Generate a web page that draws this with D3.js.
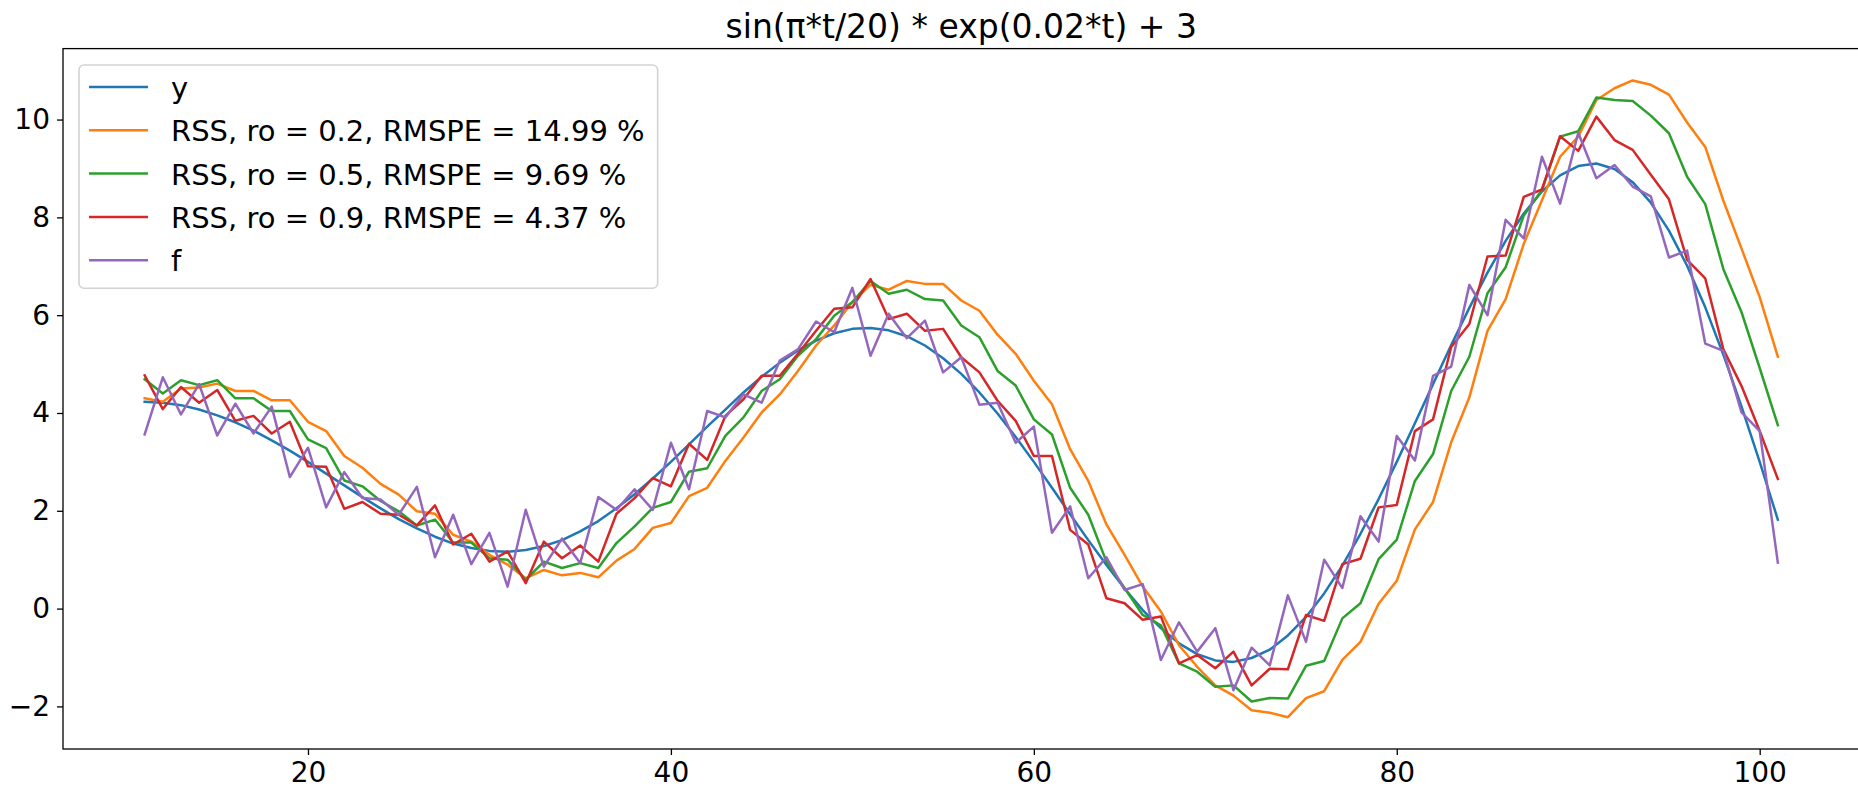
<!DOCTYPE html>
<html>
<head>
<meta charset="utf-8">
<script src="https://cdn.jsdelivr.net/npm/d3@7"></script>
<style>
  body { margin: 0; background: #fff; }
  text { font-family: "DejaVu Sans", sans-serif; fill: #000; }
</style>
</head>
<body>
<div id="chart"></div>
<script>
// Data
// ==============================
var tValues = [11,12,13,14,15,16,17,18,19,20,21,22,23,24,25,26,27,28,29,30,
  31,32,33,34,35,36,37,38,39,40,41,42,43,44,45,46,47,48,49,50,
  51,52,53,54,55,56,57,58,59,60,61,62,63,64,65,66,67,68,69,70,
  71,72,73,74,75,76,77,78,79,80,81,82,83,84,85,86,87,88,89,90,
  91,92,93,94,95,96,97,98,99,100,101];

var yValues = [4.23,4.21,4.16,4.07,3.95,3.81,3.64,3.44,3.23,3.00,2.76,2.52,2.28,2.05,1.83,1.64,1.47,1.33,1.24,1.18,
  1.16,1.20,1.28,1.40,1.58,1.79,2.05,2.34,2.66,3.00,3.36,3.72,4.07,4.42,4.74,5.03,5.28,5.48,5.63,5.72,
  5.74,5.69,5.57,5.38,5.12,4.80,4.42,3.99,3.51,3.00,2.47,1.93,1.40,0.89,0.41,-0.03,-0.40,-0.71,-0.93,-1.06,
  -1.09,-1.01,-0.84,-0.55,-0.17,0.31,0.88,1.53,2.24,3.00,3.79,4.59,5.39,6.15,6.87,7.52,8.08,8.53,8.86,9.05,
  9.10,8.99,8.72,8.30,7.73,7.01,6.16,5.19,4.13,3.00,1.82];

var rss02Values = [4.30,4.23,4.50,4.52,4.60,4.45,4.45,4.26,4.26,3.82,3.63,3.12,2.88,2.55,2.33,1.99,1.94,1.51,1.37,1.10,
  0.90,0.62,0.79,0.68,0.73,0.64,0.98,1.22,1.65,1.75,2.30,2.47,3.02,3.50,4.01,4.38,4.86,5.38,5.79,6.27,
  6.62,6.52,6.70,6.64,6.64,6.30,6.09,5.60,5.21,4.66,4.18,3.26,2.61,1.72,1.10,0.45,-0.06,-0.75,-1.19,-1.57,
  -1.78,-2.08,-2.13,-2.22,-1.83,-1.69,-1.05,-0.68,0.10,0.57,1.62,2.18,3.40,4.32,5.68,6.33,7.46,8.35,9.24,9.65,
  10.40,10.64,10.80,10.71,10.51,9.94,9.44,8.34,7.36,6.37,5.15];

var rss05Values = [4.69,4.40,4.67,4.57,4.67,4.30,4.30,4.04,4.04,3.46,3.28,2.62,2.50,2.20,1.99,1.70,1.82,1.35,1.35,1.03,
  1.00,0.59,0.96,0.83,0.93,0.83,1.34,1.68,2.06,2.18,2.80,2.87,3.53,3.91,4.45,4.69,5.17,5.51,5.99,6.27,
  6.70,6.44,6.52,6.33,6.30,5.79,5.55,4.86,4.56,3.87,3.56,2.47,1.92,0.96,0.42,-0.13,-0.34,-1.12,-1.29,-1.60,
  -1.57,-1.90,-1.83,-1.84,-1.17,-1.07,-0.20,0.11,1.01,1.41,2.61,3.16,4.45,5.15,6.45,6.98,8.04,8.56,9.65,9.76,
  10.45,10.40,10.38,10.08,9.72,8.83,8.27,6.94,6.06,4.92,3.75];

var rss09Values = [4.77,4.08,4.53,4.21,4.47,3.84,3.94,3.58,3.82,2.91,2.90,2.04,2.18,1.94,1.92,1.70,2.11,1.31,1.53,0.96,
  1.17,0.52,1.37,1.03,1.29,0.96,1.94,2.26,2.67,2.50,3.37,3.04,3.94,4.28,4.76,4.76,5.21,5.68,6.13,6.16,
  6.74,5.92,6.03,5.68,5.72,5.14,4.83,4.25,3.84,3.12,3.12,1.61,1.31,0.21,0.11,-0.23,-0.16,-1.12,-0.95,-1.22,
  -0.88,-1.57,-1.23,-1.24,-0.13,-0.25,0.91,1.02,2.07,2.12,3.63,3.87,5.35,5.82,7.20,7.22,8.42,8.57,9.66,9.36,
  10.06,9.58,9.38,8.87,8.37,7.13,6.75,5.30,4.55,3.63,2.65];

var fValues = [3.56,4.73,3.97,4.59,3.54,4.19,3.58,4.13,2.69,3.29,2.07,2.79,2.26,2.23,1.92,2.49,1.05,1.92,0.91,1.55,
  0.45,2.02,0.86,1.43,0.93,2.28,2.02,2.44,2.02,3.39,2.44,4.04,3.91,4.38,4.21,5.07,5.30,5.87,5.65,6.56,
  5.17,6.03,5.53,5.89,4.83,5.14,4.17,4.21,3.39,3.72,1.55,2.09,0.62,1.05,0.38,0.50,-1.05,-0.28,-0.88,-0.40,
  -1.67,-0.80,-1.16,0.27,-0.68,1.00,0.42,1.89,1.37,3.53,3.03,4.76,4.95,6.62,6.00,7.95,7.57,9.24,8.28,9.73,
  8.80,9.07,8.63,8.43,7.18,7.32,5.42,5.27,4.01,3.63,0.94];

var seriesNames = ["y", "RSS, ro = 0.2, RMSPE = 14.99 %", "RSS, ro = 0.5, RMSPE = 9.69 %",
  "RSS, ro = 0.9, RMSPE = 4.37 %", "f"];
var seriesColors = ["#1f77b4", "#ff7f0e", "#2ca02c", "#d62728", "#9467bd"];
var xTicks = [20, 40, 60, 80, 100];
var yTicks = [-2, 0, 2, 4, 6, 8, 10];
var chartTitle = "sin(\u03c0*t/20) * exp(0.02*t) + 3";

// set up svg
var svgWidth = 1858;
var svgHeight = 790;

var margin = {
  top: 48.6,
  right: -1.5,
  bottom: 41,
  left: 63
};

var width = svgWidth - margin.left - margin.right;
var height = svgHeight - margin.top - margin.bottom;

var svg = d3.select("#chart")
  .append("svg")
  .attr("width", svgWidth)
  .attr("height", svgHeight);

var chartGroup = svg.append("g")
  .attr("transform", `translate(${margin.left}, ${margin.top})`);

var allSeries = [yValues, rss02Values, rss05Values, rss09Values, fValues];

// Scales (matplotlib style 5% margins)
// ==============================
var xExt = d3.extent(tValues);
var xPad = (xExt[1] - xExt[0]) * 0.05;
var xScale = d3.scaleLinear()
  .domain([xExt[0] - xPad, xExt[1] + xPad])
  .range([0, width]);

var yMin = d3.min(allSeries, s => d3.min(s));
var yMax = d3.max(allSeries, s => d3.max(s));
var yPad = (yMax - yMin) * 0.05;
var yScale = d3.scaleLinear()
  .domain([yMin - yPad, yMax + yPad])
  .range([height, 0]);

// Axes
// ==============================
var bottomAxis = d3.axisBottom(xScale).tickValues(xTicks).tickSize(6).tickPadding(7).tickSizeOuter(0);
var leftAxis = d3.axisLeft(yScale).tickValues(yTicks).tickSize(6).tickPadding(7).tickSizeOuter(0);

var xAxisG = chartGroup.append("g")
  .attr("transform", `translate(0, ${height})`)
  .call(bottomAxis);

var yAxisG = chartGroup.append("g")
  .call(leftAxis);

[xAxisG, yAxisG].forEach(function(g) {
  g.select(".domain").remove();
  g.selectAll(".tick line").attr("stroke", "#000").attr("stroke-width", 1.3);
  g.selectAll(".tick text")
    .attr("font-family", "DejaVu Sans")
    .attr("font-size", "28px")
    .attr("fill", "#000");
});

// Lines
// ==============================
var line = d3.line()
  .x((d, i) => xScale(tValues[i]))
  .y(d => yScale(d));

allSeries.forEach(function(values, k) {
  chartGroup.append("path")
    .datum(values)
    .attr("d", line)
    .attr("fill", "none")
    .attr("stroke", seriesColors[k])
    .attr("stroke-width", 2.5)
    .attr("stroke-linejoin", "round")
    .attr("stroke-linecap", "square");
});

// Spines
chartGroup.append("rect")
  .attr("x", 0)
  .attr("y", 0)
  .attr("width", width)
  .attr("height", height)
  .attr("fill", "none")
  .attr("stroke", "#000")
  .attr("stroke-width", 1.3);

// Title
svg.append("text")
  .attr("x", margin.left + width / 2)
  .attr("y", 38)
  .attr("text-anchor", "middle")
  .attr("font-size", "33px")
  .text(chartTitle);

// Legend
// ==============================
var legendX = 79, legendY = 65, rowGap = 43.3;
var legendG = svg.append("g");
var legendBox = legendG.append("rect")
  .attr("x", legendX)
  .attr("y", legendY)
  .attr("rx", 5)
  .attr("ry", 5)
  .attr("fill", "#fff")
  .attr("fill-opacity", 0.8)
  .attr("stroke", "#d3d3d3")
  .attr("stroke-width", 1.6);

var maxLen = 0;
seriesNames.forEach(function(name, k) {
  var cy = legendY + 22 + k * rowGap;
  legendG.append("line")
    .attr("x1", legendX + 10)
    .attr("x2", legendX + 69)
    .attr("y1", cy)
    .attr("y2", cy)
    .attr("stroke", seriesColors[k])
    .attr("stroke-width", 2.5);
  var txt = legendG.append("text")
    .attr("x", legendX + 92)
    .attr("y", cy + 11)
    .attr("font-size", "29px")
    .text(name);
  maxLen = Math.max(maxLen, txt.node().getComputedTextLength());
});

legendBox
  .attr("width", 92 + maxLen + 13)
  .attr("height", 22 + 4 * rowGap + 28);
</script>
</body>
</html>
